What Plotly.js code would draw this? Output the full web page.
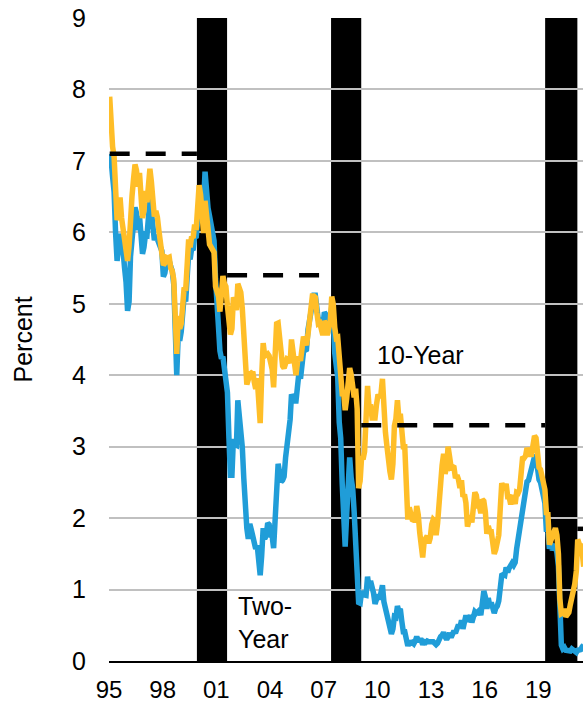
<!DOCTYPE html>
<html>
<head>
<meta charset="utf-8">
<script src="https://cdn.plot.ly/plotly-3.0.1.min.js"></script>
<style>
html,body{margin:0;padding:0;background:#fff;}
#chart{width:583px;height:705px;}
</style>
</head>
<body>
<div id="chart"></div>
<script>
// Monthly series start
const startYear = 1995;
const startMonth = 1;

// Two-year Treasury yield (percent), monthly
const twoYear = [
  7.10, 7.00, 6.78, 6.57, 6.00, 5.60, 5.78, 5.98, 5.85, 5.74, 5.50, 5.30,
  4.90, 5.03, 5.66, 5.96, 6.10, 6.35, 6.27, 6.03, 6.23, 5.91, 5.70, 5.79,
  5.97, 5.96, 6.19, 6.46, 6.30, 6.13, 5.89, 5.96, 5.89, 5.82, 5.78, 5.74,
  5.38, 5.43, 5.57, 5.58, 5.60, 5.52, 5.46, 5.27, 4.62, 4.00, 4.57, 4.48,
  4.61, 4.90, 5.11, 5.03, 5.33, 5.70, 5.62, 5.77, 5.75, 5.94, 5.92, 6.14,
  6.44, 6.61, 6.53, 6.40, 6.85, 6.48, 6.34, 6.23, 6.08, 5.91, 5.88, 5.35,
  4.76, 4.66, 4.34, 4.23, 4.26, 4.08, 4.04, 3.76, 3.12, 2.60, 2.60, 3.11,
  3.03, 3.02, 3.65, 3.42, 3.26, 2.99, 2.56, 2.13, 1.86, 1.71, 1.92, 1.84,
  1.74, 1.63, 1.57, 1.62, 1.42, 1.20, 1.47, 1.86, 1.71, 1.75, 1.93, 1.91,
  1.76, 1.74, 1.58, 2.07, 2.53, 2.76, 2.64, 2.51, 2.53, 2.58, 2.85, 3.01,
  3.22, 3.38, 3.73, 3.65, 3.64, 3.64, 3.87, 4.04, 3.95, 4.17, 4.33, 4.35,
  4.36, 4.64, 4.74, 4.89, 4.97, 5.12, 5.12, 4.90, 4.77, 4.80, 4.74, 4.67,
  4.88, 4.85, 4.57, 4.67, 4.77, 4.96, 4.82, 4.31, 4.01, 3.97, 3.34, 3.12,
  2.48, 1.97, 1.60, 2.05, 2.45, 2.85, 2.57, 2.42, 2.08, 1.61, 1.21, 0.82,
  0.81, 0.98, 0.93, 0.93, 0.92, 1.18, 1.02, 1.12, 0.96, 0.95, 0.80, 0.87,
  0.93, 0.86, 0.96, 1.06, 0.83, 0.72, 0.62, 0.52, 0.48, 0.38, 0.45, 0.62,
  0.61, 0.77, 0.70, 0.73, 0.56, 0.41, 0.41, 0.23, 0.21, 0.28, 0.25, 0.26,
  0.24, 0.28, 0.34, 0.29, 0.29, 0.29, 0.23, 0.27, 0.26, 0.28, 0.27, 0.26,
  0.27, 0.27, 0.26, 0.23, 0.25, 0.33, 0.34, 0.36, 0.40, 0.34, 0.30, 0.34,
  0.39, 0.33, 0.40, 0.42, 0.39, 0.45, 0.51, 0.47, 0.57, 0.45, 0.53, 0.64,
  0.55, 0.62, 0.64, 0.54, 0.61, 0.69, 0.67, 0.70, 0.71, 0.64, 0.88, 0.98,
  0.90, 0.73, 0.88, 0.77, 0.82, 0.73, 0.67, 0.74, 0.77, 0.84, 0.98, 1.20,
  1.21, 1.20, 1.31, 1.24, 1.30, 1.34, 1.37, 1.34, 1.38, 1.57, 1.70, 1.84,
  2.03, 2.18, 2.28, 2.38, 2.51, 2.53, 2.61, 2.65, 2.77, 2.86, 2.86, 2.68,
  2.54, 2.50, 2.41, 2.34, 2.21, 1.81, 1.84, 1.57, 1.65, 1.55, 1.61, 1.61,
  1.52, 1.33, 0.45, 0.22, 0.17, 0.19, 0.15, 0.14, 0.13, 0.14, 0.17, 0.15,
  0.13, 0.12, 0.15, 0.16, 0.16, 0.20, 0.22
];

// Ten-year Treasury yield (percent), monthly
const tenYear = [
  7.90, 7.47, 7.20, 7.06, 6.63, 6.17, 6.28, 6.49, 6.20, 6.04, 5.93, 5.71,
  5.60, 5.81, 6.27, 6.51, 6.74, 6.95, 6.87, 6.64, 6.83, 6.53, 6.20, 6.30,
  6.58, 6.42, 6.75, 6.89, 6.71, 6.49, 6.22, 6.30, 6.21, 6.03, 5.88, 5.81,
  5.54, 5.57, 5.65, 5.64, 5.65, 5.50, 5.46, 5.34, 4.81, 4.30, 4.83, 4.65,
  4.72, 5.00, 5.23, 5.18, 5.54, 5.90, 5.79, 5.94, 5.92, 6.11, 6.03, 6.28,
  6.66, 6.52, 6.26, 5.99, 6.44, 6.10, 6.05, 5.83, 5.80, 5.74, 5.72, 5.24,
  5.16, 5.10, 4.89, 5.14, 5.39, 5.28, 5.24, 4.97, 4.73, 4.57, 4.65, 5.09,
  5.04, 4.91, 5.28, 5.21, 5.16, 4.93, 4.65, 4.26, 3.87, 3.94, 4.05, 4.03,
  4.05, 3.90, 3.81, 3.96, 3.57, 3.33, 3.98, 4.45, 4.27, 4.29, 4.30, 4.27,
  4.15, 4.08, 3.83, 4.35, 4.72, 4.73, 4.50, 4.28, 4.13, 4.10, 4.19, 4.23,
  4.22, 4.17, 4.50, 4.34, 4.14, 4.00, 4.18, 4.26, 4.20, 4.46, 4.54, 4.47,
  4.42, 4.57, 4.72, 4.99, 5.11, 5.11, 5.09, 4.88, 4.72, 4.73, 4.60, 4.56,
  4.76, 4.72, 4.56, 4.69, 4.75, 5.10, 5.00, 4.67, 4.52, 4.53, 4.15, 4.10,
  3.74, 3.74, 3.51, 3.68, 3.88, 4.10, 4.01, 3.89, 3.69, 3.81, 3.53, 2.42,
  2.52, 2.87, 2.82, 2.93, 3.29, 3.85, 3.56, 3.59, 3.40, 3.39, 3.40, 3.59,
  3.73, 3.69, 3.73, 3.95, 3.42, 3.20, 3.01, 2.70, 2.65, 2.54, 2.76, 3.29,
  3.39, 3.65, 3.41, 3.46, 3.17, 3.00, 3.00, 2.30, 1.98, 2.15, 2.01, 1.98,
  1.97, 1.97, 2.17, 2.05, 1.80, 1.62, 1.45, 1.68, 1.72, 1.75, 1.65, 1.72,
  1.91, 1.98, 1.96, 1.76, 1.93, 2.30, 2.58, 2.74, 2.90, 2.62, 2.72, 3.00,
  2.86, 2.71, 2.72, 2.71, 2.56, 2.60, 2.54, 2.42, 2.53, 2.30, 2.33, 2.21,
  1.88, 1.98, 2.04, 1.94, 2.20, 2.36, 2.32, 2.17, 2.17, 2.07, 2.26, 2.24,
  2.09, 1.78, 1.89, 1.81, 1.81, 1.64, 1.50, 1.56, 1.63, 1.76, 2.14, 2.49,
  2.43, 2.42, 2.48, 2.30, 2.30, 2.19, 2.32, 2.21, 2.20, 2.36, 2.35, 2.40,
  2.58, 2.86, 2.84, 2.87, 2.98, 2.91, 2.89, 2.89, 3.00, 3.15, 3.12, 2.83,
  2.71, 2.68, 2.57, 2.53, 2.40, 2.07, 2.06, 1.63, 1.70, 1.71, 1.81, 1.86,
  1.76, 1.50, 0.87, 0.66, 0.67, 0.73, 0.62, 0.65, 0.68, 0.79, 0.87, 0.93,
  1.08, 1.26, 1.70, 1.64, 1.62, 1.52, 1.32
];

// Recession shading periods
const recStart = ["1999-12-01", "2007-06-01", "2019-05-20"];
const recEnd   = ["2001-08-08", "2009-02-06", "2021-03-08"];

// Dashed reference levels during expansions
const refStart = ["1995-01-15", "2001-08-08", "2009-02-06", "2021-03-08"];
const refEnd   = ["1999-12-01", "2007-05-10", "2019-05-20", "2021-07-15"];
const refLevel = [7.1, 5.4, 3.3, 1.85];

// Axis ticks
const tickDates  = ["1995-01-01","1998-01-01","2001-01-01","2004-01-01","2007-01-01","2010-01-01","2013-01-01","2016-01-01","2019-01-01"];
const tickLabels = ["95","98","01","04","07","10","13","16","19"];
const yTicks = [0,1,2,3,4,5,6,7,8,9];

// Labels
const seriesLabels = ["10-Year", "Two-<br>Year"];

function monthDate(i) {
  const m0 = (startMonth - 1) + i;
  const y = startYear + Math.floor(m0 / 12);
  const m = (m0 % 12) + 1;
  return y + "-" + String(m).padStart(2, "0") + "-15";
}
const dates = twoYear.map((_, i) => monthDate(i));

const BLUE = "#209dd8";
const GOLD = "#ffbe28";
const FONT = "Liberation Sans, Arial, Helvetica, sans-serif";

const traces = [];
traces.push({
  x: dates, y: twoYear, type: "scatter", mode: "lines",
  line: {color: BLUE, width: 5.5}, hoverinfo: "skip"
});
traces.push({
  x: dates, y: tenYear, type: "scatter", mode: "lines",
  line: {color: GOLD, width: 5.5}, hoverinfo: "skip"
});
for (let k = 0; k < refLevel.length; k++) {
  traces.push({
    x: [refStart[k], refEnd[k]], y: [refLevel[k], refLevel[k]],
    type: "scatter", mode: "lines",
    line: {color: "#000", width: 4.5, dash: "20px,16px"}, hoverinfo: "skip"
  });
}

const shapes = recStart.map((s, k) => ({
  type: "rect", xref: "x", yref: "paper",
  x0: s, x1: recEnd[k], y0: 0, y1: 1,
  fillcolor: "#000", line: {width: 0}, layer: "below"
}));

const layout = {
  width: 583, height: 705,
  margin: {l: 109, r: 0, t: 18, b: 43.5, pad: 0},
  paper_bgcolor: "#fff", plot_bgcolor: "rgba(0,0,0,0)",
  showlegend: false,
  font: {family: FONT, size: 25, color: "#000"},
  xaxis: {
    type: "date", range: ["1995-01-01", "2021-07-01"],
    tickvals: tickDates, ticktext: tickLabels,
    showgrid: false, zeroline: false,
    showline: true, linecolor: "#000", linewidth: 2,
    ticks: "", ticklabelstandoff: 6,
    tickfont: {family: FONT, size: 24, color: "#000"}
  },
  yaxis: {
    range: [0, 9], tickvals: yTicks,
    showgrid: true, gridcolor: "#c0c0c0", gridwidth: 2,
    zeroline: false, showline: false,
    ticks: "", ticklabelstandoff: 22,
    tickfont: {family: FONT, size: 25, color: "#000"}
  },
  shapes: shapes,
  annotations: [
    {xref: "paper", yref: "paper", x: -0.1835, y: 0.5, text: "Percent",
     textangle: -90, showarrow: false, xanchor: "center", yanchor: "middle",
     font: {family: FONT, size: 25, color: "#000"}},
    {xref: "x", yref: "y", x: "2012-06-01", y: 4.29, text: seriesLabels[0],
     showarrow: false, xanchor: "center", yanchor: "middle",
     font: {family: FONT, size: 25, color: "#000"}},
    {xref: "x", yref: "y", x: "2002-02-15", y: 0.54, text: seriesLabels[1],
     showarrow: false, xanchor: "left", yanchor: "middle", align: "left",
     font: {family: FONT, size: 25, color: "#000"}}
  ]
};

Plotly.newPlot("chart", traces, layout, {staticPlot: true, displayModeBar: false});
</script>
</body>
</html>
